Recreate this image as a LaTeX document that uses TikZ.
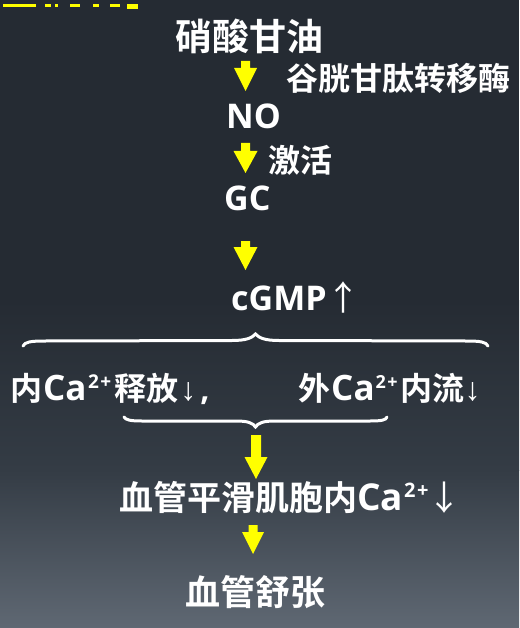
\documentclass[tikz,border=0pt]{standalone}
\usepackage{fontspec}
\setmainfont{Open Sans}
\newfontfamily\cjk{Noto Sans CJK SC}[BoldFont={Noto Sans CJK SC Bold}]
\newfontfamily\arrowfont{Liberation Sans}
\definecolor{bgtop}{HTML}{252B33}
\definecolor{bgmid}{HTML}{343C45}
\definecolor{bgbot}{HTML}{5F6873}
\definecolor{arrowyellow}{HTML}{FFFF00}
% superscript "2+": size, raise
\newcommand\supx[2]{\raisebox{#2}{\fontsize{#1}{#1}\selectfont 2\kern1.5pt+}}
\newcommand\smallarrow[1]{{\arrowfont\mdseries #1}}
\newcommand\bigarrow[1]{{\cjk\mdseries #1}}
% block arrow: cx, stem half width, head half width, ytop, yneck, ytip
\newcommand\yarrow[6]{\fill[arrowyellow] (#1-#2,#4) -- (#1+#2,#4) -- (#1+#2,#5) -- (#1+#3,#5) -- (#1,#6) -- (#1-#3,#5) -- (#1-#2,#5) -- cycle;}
\tikzset{
  lbl/.style={anchor=base west, inner sep=0pt, text=white, font=\bfseries},
  brace/.style={draw=white, line width=3pt, line cap=round}
}
\begin{document}
\begin{tikzpicture}[x=1pt,y=-1pt]
\useasboundingbox (0,0) rectangle (519,628);
\fill[bgtop] (0,0) rectangle (519,300);
\shade[top color=bgtop, bottom color=bgmid] (0,300) rectangle (519,470);
\shade[top color=bgmid, bottom color=bgbot] (0,470) rectangle (519,628.5);
% cut-off title remnants at the top-left
\fill[arrowyellow] (3,4) rectangle (36,7);
\fill[arrowyellow] (45,4) rectangle (51,7);
\fill[arrowyellow] (55,4) rectangle (58,7);
\fill[arrowyellow] (70,4) rectangle (80,7);
\fill[arrowyellow] (93,4) rectangle (99,7);
\fill[arrowyellow] (110,4) rectangle (120,7);
\fill[arrowyellow] (127,4) rectangle (138,9);
% texts
\node[lbl, font=\bfseries\fontsize{37}{40}\selectfont] (ntg) at (175,51) {\cjk 硝酸甘油};
\node[lbl, font=\bfseries\fontsize{32}{36}\selectfont] (gst) at (286,91) {\cjk 谷胱甘肽转移酶};
\node[lbl, font=\bfseries\fontsize{34}{36}\selectfont] (no) at (226,129) {NO};
\node[lbl, font=\bfseries\fontsize{32}{36}\selectfont] (act) at (268,173) {\cjk 激活};
\node[lbl, font=\bfseries\fontsize{34}{36}\selectfont] (gc) at (224,211) {GC};
\node[lbl, font=\bfseries\fontsize{34}{36}\selectfont] (cgmp) at (231,310) {cGMP\bigarrow{↑}};
\node[lbl, font=\bfseries\fontsize{32}{36}\selectfont] (left) at (10,400)
  {{\cjk 内}\kern1pt{\fontsize{35}{36}\selectfont Ca}\kern1.5pt\supx{19pt}{12pt}\kern3pt{\cjk 释放}\kern2pt\smallarrow{↓}\kern4pt,};
\node[lbl, font=\bfseries\fontsize{32}{36}\selectfont] (right) at (298,400)
  {{\cjk 外}\kern1pt{\fontsize{35}{36}\selectfont Ca}\kern1pt\supx{18pt}{12pt}\kern3pt{\cjk 内流}\smallarrow{↓}};
\node[lbl, font=\bfseries\fontsize{34}{38}\selectfont] (smc) at (119,510)
  {{\cjk 血管平滑肌胞内}{\fontsize{37}{38}\selectfont Ca}\kern1pt\supx{20pt}{13pt}\kern-1pt\bigarrow{↓}};
\node[lbl, font=\bfseries\fontsize{35}{38}\selectfont] (dil) at (185,605) {\cjk 血管舒张};
% yellow block arrows
\yarrow{245.5}{4.5}{11.5}{61}{68}{91}
\yarrow{245.5}{4.5}{12}{143}{151}{173}
\yarrow{245.5}{4.5}{12}{241}{247}{270}
\yarrow{256}{5}{11.5}{435}{457}{479}
\yarrow{253}{4.5}{11}{525}{532}{554}
% braces
\draw[brace] (23,346) .. controls (25,342) and (30,341) .. (45,341) -- (232,340.5)
  .. controls (246,340.5) and (252,338) .. (255.5,334)
  .. controls (259,338) and (265,340.5) .. (279,340.5) -- (466,341)
  .. controls (481,341) and (486,342) .. (488,346);
\draw[brace] (124,417) .. controls (126,420) and (130,421) .. (142,421) -- (236,421)
  .. controls (248,421) and (253,423) .. (255.5,427)
  .. controls (258,423) and (263,421) .. (275,421) -- (370,421)
  .. controls (382,421) and (386,420) .. (387,417);
\end{tikzpicture}
\end{document}
